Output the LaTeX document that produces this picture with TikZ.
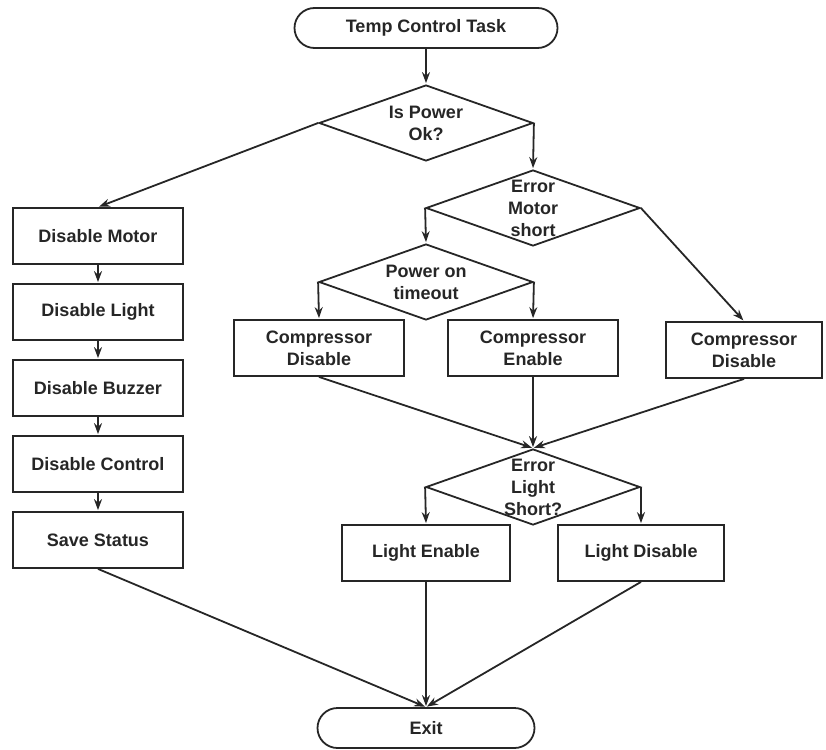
\documentclass[tikz,border=0pt]{standalone}
\usepackage{fontspec}
\setmainfont{Liberation Sans}
\usetikzlibrary{arrows.meta,shapes}

\begin{document}
\begin{tikzpicture}[->,>={Stealth[length=11pt,width=8pt]},shorten >=1pt,x=1pt,y=-1pt,
                    line width=1.8pt,draw=black!85,
                    every node/.style={font=\fontsize{18}{22}\selectfont\bfseries,text=black!85,line width=1.8pt},
                    block/.style={rectangle,draw,minimum width=170pt,minimum height=56pt,align=center,inner sep=0pt},
                    term/.style={rectangle,rounded corners=20pt,draw,minimum height=40pt,inner sep=0pt},
                    decision/.style={diamond,draw,minimum width=214pt,minimum height=76pt,inner sep=0pt}]
  \useasboundingbox (0,0) rectangle (826,749);

  \node[term,minimum width=263pt] (start) at (426,28) {Temp Control Task};
  \node[decision,label={[align=center]center:Is Power\\Ok?}] (power) at (426,123) {};

  % power fail branch
  \node[block] (dmotor) at (98,236) {Disable Motor};
  \node[block] (dlight) at (98,312) {Disable Light};
  \node[block] (dbuzz) at (98,388) {Disable Buzzer};
  \node[block] (dctrl) at (98,464) {Disable Control};
  \node[block] (save) at (98,540) {Save Status};

  % power ok branch
  \node[decision,label={[align=center]center:Error\\Motor\\short}] (motor) at (533,208) {};
  \node[decision,label={[align=center]center:Power on\\timeout}] (timeout) at (426,282) {};
  \node[block] (cdis1) at (319,348) {Compressor\\Disable};
  \node[block] (cen) at (533,348) {Compressor\\Enable};
  \node[block,minimum width=156pt] (cdis2) at (744,350) {Compressor\\Disable};

  \node[decision,label={[align=center]center:Error\\Light\\Short?}] (lightq) at (533,487) {};
  \node[block,minimum width=168pt] (lena) at (426,553) {Light Enable};
  \node[block,minimum width=166pt] (ldis) at (641,553) {Light Disable};

  \node[term,minimum width=217pt] (exit) at (426,728) {Exit};

  \path
    (start.south) edge (power.north)
    (power.west) edge (dmotor.north)
    (power.east) edge (motor.north)
    (dmotor) edge (dlight)
    (dlight) edge (dbuzz)
    (dbuzz) edge (dctrl)
    (dctrl) edge (save)
    (motor.west) edge (timeout.north)
    (motor.east) edge (cdis2.north)
    (timeout.west) edge (cdis1.north)
    (timeout.east) edge (cen.north)
    (cdis1.south) edge (lightq.north)
    (cen.south) edge (lightq.north)
    (cdis2.south) edge (lightq.north)
    (lightq.west) edge (lena.north)
    (lightq.east) edge (ldis.north)
    (save.south) edge (exit.north)
    (lena.south) edge (exit.north)
    (ldis.south) edge (exit.north);
\end{tikzpicture}
\end{document}
